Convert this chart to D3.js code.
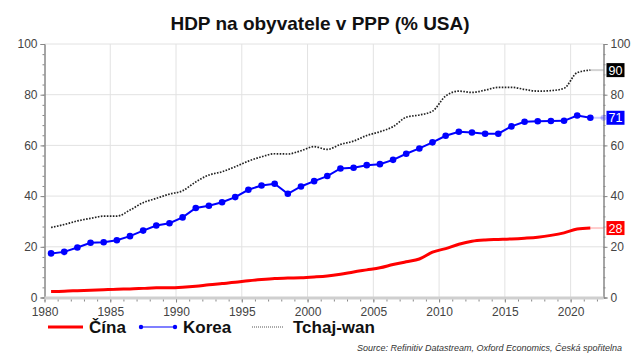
<!DOCTYPE html>
<html>
<head>
<meta charset="utf-8">
<script src="https://cdn.jsdelivr.net/npm/d3@7"></script>
<style>
  body { margin: 0; background: #fff; }
  svg { font-family: "Liberation Sans", Arial, sans-serif; }
</style>
</head>
<body>
<script>
// data
const years = [1980,1981,1982,1983,1984,1985,1986,1987,1988,1989,
  1990,1991,1992,1993,1994,1995,1996,1997,1998,1999,
  2000,2001,2002,2003,2004,2005,2006,2007,2008,2009,
  2010,2011,2012,2013,2014,2015,2016,2017,2018,2019,
  2020,2021];

const china = [2.4,2.5,2.7,2.9,3.1,3.3,3.4,3.6,3.8,3.8,
  4.0,4.4,5.0,5.5,6.0,6.6,7.1,7.5,7.7,7.8,
  8.1,8.5,9.2,10.1,10.9,11.7,13.0,14.1,15.2,17.9,
  19.3,21.0,22.2,22.7,22.9,23.1,23.4,23.8,24.5,25.5,
  27.0,27.4];

const korea = [17.4,18.0,19.7,21.6,21.8,22.6,24.2,26.4,28.4,29.3,
  31.6,35.3,36.2,37.6,39.6,42.5,44.2,44.9,40.9,43.8,
  45.9,47.9,50.9,51.2,52.2,52.6,54.3,56.7,58.8,61.2,
  63.8,65.4,65.1,64.6,64.6,67.5,69.3,69.5,69.6,69.7,
  71.8,70.9];

const taiwan = [27.6,28.8,30.2,31.2,32.1,32.1,34.5,37.4,39.1,40.8,
  42.1,45.6,48.3,49.6,51.6,53.8,55.5,56.7,56.6,57.9,
  59.5,58.4,60.4,61.7,63.9,65.4,67.4,71.1,72.0,73.5,
  79.5,81.4,80.9,81.8,82.9,82.9,82.1,81.4,81.6,82.5,
  88.7,89.7];

const seriesNames = ["Čína", "Korea", "Tchaj-wan"];
const endLabels = ["28", "71", "90"];
const yTicks = [0, 20, 40, 60, 80, 100];
const xTicks = [1980, 1985, 1990, 1995, 2000, 2005, 2010, 2015, 2020];

const width = 640;
const height = 361;

const svg = d3.select("body").append("svg")
  .attr("width", width)
  .attr("height", height);

const x = d3.scaleLinear().domain([1980, 2022.5]).range([44.5, 603.5]);
const y = d3.scaleLinear().domain([0, 100]).range([297.5, 44]);

// titulek
svg.append("text")
  .attr("x", 320).attr("y", 30)
  .attr("text-anchor", "middle")
  .style("font-size", "19px").style("font-weight", "bold")
  .attr("fill", "#111")
  .text("HDP na obyvatele v PPP (% USA)");

// mřížka
const grid = svg.append("g");
grid.selectAll(".gy").data(yTicks.filter(d => d > 0)).enter().append("line")
  .attr("x1", x.range()[0]).attr("x2", x.range()[1])
  .attr("y1", d => y(d)).attr("y2", d => y(d))
  .attr("stroke", "#e2e2e2").attr("stroke-width", 1);
grid.selectAll(".gx").data(xTicks.filter(d => d > 1980)).enter().append("line")
  .attr("x1", d => x(d)).attr("x2", d => x(d))
  .attr("y1", y(100)).attr("y2", y(0))
  .attr("stroke", "#e2e2e2").attr("stroke-width", 1);

// osy Y (vlevo a vpravo)
const minorY = d3.range(0, 101, 4);
function styleAxis(g) {
  g.select(".domain").attr("stroke", "#888");
  g.selectAll(".tick line").attr("stroke", "#888");
  g.selectAll(".tick text").attr("fill", "#444").style("font-size", "12px");
}

svg.append("g")
  .attr("transform", `translate(${x.range()[0]},0)`)
  .call(d3.axisLeft(y).tickValues(minorY).tickSize(2).tickFormat(""))
  .call(styleAxis);
svg.append("g")
  .attr("transform", `translate(${x.range()[0]},0)`)
  .call(d3.axisLeft(y).tickValues(yTicks).tickSize(4).tickPadding(3))
  .call(styleAxis);

svg.append("g")
  .attr("transform", `translate(${x.range()[1]},0)`)
  .call(d3.axisRight(y).tickValues(minorY).tickSize(2).tickFormat(""))
  .call(styleAxis);
svg.append("g")
  .attr("transform", `translate(${x.range()[1]},0)`)
  .call(d3.axisRight(y).tickValues(yTicks).tickSize(4).tickPadding(3))
  .call(styleAxis);

// osa X – šedý pruh + tiky
svg.append("rect")
  .attr("x", x.range()[0]).attr("y", y(0) - 1)
  .attr("width", x.range()[1] - x.range()[0]).attr("height", 3)
  .attr("fill", "#cfcfcf");

const xAxisG = svg.append("g").attr("transform", `translate(0,${y(0) + 2})`);
xAxisG.append("g")
  .call(d3.axisBottom(x).tickValues(d3.range(1980, 2023)).tickSize(2).tickFormat(""))
  .call(styleAxis)
  .call(g => g.select(".domain").remove());
xAxisG.append("g")
  .call(d3.axisBottom(x).tickValues(xTicks).tickSize(3).tickPadding(5).tickFormat(d3.format("d")))
  .call(styleAxis)
  .call(g => g.select(".domain").remove());

// řady
const pos = yr => x(yr + 0.5);
const smooth = d3.line().x((d, i) => pos(years[i])).y(d => y(d)).curve(d3.curveMonotoneX);
const straight = d3.line().x((d, i) => pos(years[i])).y(d => y(d));

const lastX = pos(years[years.length - 1]);
const edgeX = x.range()[1];

// spojnice k popiskům vpravo
const ends = [
  { v: china[china.length - 1], c: "#ff0000", bg: "#ff0000", lab: endLabels[0] },
  { v: korea[korea.length - 1], c: "#0000ff", bg: "#0000ff", lab: endLabels[1] },
  { v: taiwan[taiwan.length - 1], c: "#222", bg: "#000", lab: endLabels[2] }
];
ends.forEach(e => {
  svg.append("line")
    .attr("x1", lastX).attr("x2", edgeX)
    .attr("y1", y(e.v)).attr("y2", y(e.v))
    .attr("stroke", e.c).attr("stroke-opacity", 0.2).attr("stroke-width", 2);
});
svg.append("circle")
  .attr("cx", edgeX).attr("cy", y(korea[korea.length - 1])).attr("r", 3)
  .attr("fill", "#0000ff").attr("fill-opacity", 0.25);

svg.append("path").datum(taiwan)
  .attr("d", smooth)
  .attr("fill", "none")
  .attr("stroke", "#222")
  .attr("stroke-width", 1.7)
  .attr("stroke-dasharray", "1.6,1.4");

svg.append("path").datum(china)
  .attr("d", smooth)
  .attr("fill", "none")
  .attr("stroke", "#ff0000")
  .attr("stroke-width", 3);

svg.append("path").datum(korea)
  .attr("d", straight)
  .attr("fill", "none")
  .attr("stroke", "#0000ff")
  .attr("stroke-width", 2);

svg.selectAll(".kdot").data(korea).enter().append("circle")
  .attr("cx", (d, i) => pos(years[i]))
  .attr("cy", d => y(d))
  .attr("r", 3.3)
  .attr("fill", "#0000ff");

// popisky posledních hodnot
ends.forEach(e => {
  const g = svg.append("g").attr("transform", `translate(${edgeX + 3},${y(e.v)})`);
  g.append("rect")
    .attr("x", 0).attr("y", -7)
    .attr("width", 18).attr("height", 14)
    .attr("fill", e.bg);
  g.append("text")
    .attr("x", 9).attr("y", 4.5)
    .attr("text-anchor", "middle")
    .attr("fill", "#fff")
    .style("font-size", "12.5px")
    .text(e.lab);
});

// legenda
const legY = 327;
const leg = svg.append("g");
leg.append("line").attr("x1", 48).attr("x2", 83).attr("y1", legY).attr("y2", legY)
  .attr("stroke", "#ff0000").attr("stroke-width", 3);
leg.append("text").attr("x", 89).attr("y", legY + 6)
  .style("font-size", "17px").style("font-weight", "bold").attr("fill", "#111")
  .text(seriesNames[0]);

leg.append("line").attr("x1", 141).attr("x2", 175).attr("y1", legY).attr("y2", legY)
  .attr("stroke", "#0000ff").attr("stroke-width", 1.2);
[141, 175].forEach(cx => leg.append("circle").attr("cx", cx).attr("cy", legY).attr("r", 2.2).attr("fill", "#0000ff"));
leg.append("text").attr("x", 183).attr("y", legY + 6)
  .style("font-size", "17px").style("font-weight", "bold").attr("fill", "#111")
  .text(seriesNames[1]);

leg.append("line").attr("x1", 252).attr("x2", 284).attr("y1", legY).attr("y2", legY)
  .attr("stroke", "#555").attr("stroke-width", 1).attr("stroke-dasharray", "1,1");
leg.append("text").attr("x", 293).attr("y", legY + 6)
  .style("font-size", "17px").style("font-weight", "bold").attr("fill", "#111")
  .text(seriesNames[2]);

// zdroj
svg.append("text")
  .attr("x", 622).attr("y", 351)
  .attr("text-anchor", "end")
  .style("font-size", "9px").style("font-style", "italic")
  .attr("fill", "#333")
  .text("Source: Refinitiv Datastream, Oxford Economics, Česká spořitelna");
</script>
</body>
</html>
